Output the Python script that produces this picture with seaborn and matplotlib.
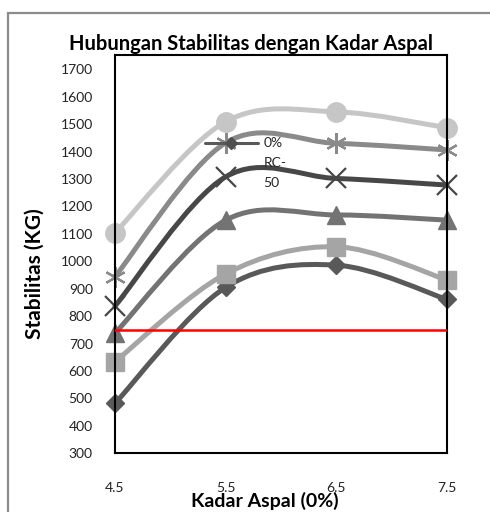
import numpy as np
import pandas as pd
import matplotlib
matplotlib.use("Agg")
import matplotlib.pyplot as plt
import seaborn as sns
from matplotlib.path import Path
from matplotlib.patches import PathPatch, Rectangle
from matplotlib.lines import Line2D
from matplotlib.legend_handler import HandlerLine2D

# ---------------- data ----------------
kadar_aspal = [4.5, 5.5, 6.5, 7.5]
stab_diamond = [482, 905, 986, 861]
stab_square = [634, 954, 1053, 932]
stab_triangle = [738, 1150, 1169, 1150]
stab_xmark = [837, 1308, 1302, 1278]
stab_asterisk = [944, 1432, 1430, 1406]
stab_circle = [1104, 1509, 1545, 1487]
batas_min = 750
y_ticks = [300, 400, 500, 600, 700, 800, 900, 1000, 1100, 1200, 1300, 1400, 1500, 1600, 1700]
x_tick_labels = ["4.5", "5.5", "6.5", "7.5"]
legend_label = "0%\nRC-\n50"
title = "Hubungan Stabilitas dengan Kadar Aspal"
xlabel = "Kadar Aspal (0%)"
ylabel = "Stabilitas (KG)"

series = [
    (stab_diamond, "D", "#595959", 9.5, 1.0),
    (stab_square, "s", "#a5a5a5", 13.5, 1.0),
    (stab_triangle, "^", "#737373", 13.5, 1.0),
    (stab_xmark, "x", "#474747", 14.0, 1.6),
    (stab_asterisk, (6, 2, 0), "#8a8a8a", 15.0, 1.6),
    (stab_circle, "o", "#c6c6c6", 14.0, 1.0),
]

sns.set_theme(style="white")
plt.rcParams["font.family"] = ["Lato", "DejaVu Sans"]

W, H = 490, 512
fig = plt.figure(figsize=(W / 100, H / 100), dpi=100)
fig.patch.set_facecolor("white")

# outer chart border
fig.patches.append(Rectangle((7.5 / W, -0.2), 1.5, 1 - 12.5 / H + 0.2,
                             transform=fig.transFigure, fill=False,
                             edgecolor="#8c8c8c", linewidth=1.6))

L, R, T, B = 115, 447, 54.5, 453.3
ax = fig.add_axes([L / W, 1 - B / H, (R - L) / W, (B - T) / H])


def smooth_path(xs, ys):
    pts = np.column_stack([xs, ys]).astype(float)
    n = len(pts)
    verts = [pts[0]]
    codes = [Path.MOVETO]
    for i in range(n - 1):
        p0 = pts[i - 1] if i > 0 else pts[i]
        p1 = pts[i]
        p2 = pts[i + 1]
        p3 = pts[i + 2] if i + 2 < n else pts[i + 1]
        c1 = p1 + (p2 - p0) / 6.0
        c2 = p2 - (p3 - p1) / 6.0
        verts += [c1, c2, p2]
        codes += [Path.CURVE4] * 3
    return Path(verts, codes)


for k, (vals, mk, col, ms, mew) in enumerate(series):
    z = 3 + k * 0.1
    patch = PathPatch(smooth_path(kadar_aspal, vals), fill=False, edgecolor=col,
                      linewidth=3.6, zorder=z, capstyle="round", joinstyle="round",
                      clip_on=False)
    ax.add_patch(patch)
    df = pd.DataFrame({"x": kadar_aspal, "y": vals})
    sns.lineplot(data=df, x="x", y="y", ax=ax, color=col, marker=mk, linestyle="",
                 markersize=ms, markeredgecolor=col, markerfacecolor=col,
                 markeredgewidth=mew, zorder=z + 0.05, clip_on=False)

ax.axhline(batas_min, color="#ff0000", linewidth=1.8, zorder=10)

ax.set_xlim(4.5, 7.5)
ax.set_ylim(300, 1754)
ax.set_xticks(kadar_aspal)
ax.set_xticklabels(x_tick_labels)
ax.set_yticks(y_ticks)
ax.tick_params(axis="both", length=0, labelsize=10, colors="#222222")
ax.tick_params(axis="x", pad=21)
ax.tick_params(axis="y", pad=16)
for s in ax.spines.values():
    s.set_visible(True)
    s.set_color("black")
    s.set_linewidth(1.5)
    s.set_zorder(9)
ax.grid(False)

ax.set_xlabel(xlabel, fontsize=14, fontweight="bold", color="black")
ax.xaxis.label.set_va("center")
ax.xaxis.set_label_coords((265 - L) / (R - L), (B - 501) / (B - T))
ax.set_ylabel(ylabel, fontsize=15, fontweight="bold", color="black")
ax.yaxis.label.set_va("center")
ax.yaxis.set_label_coords((35 - L) / (R - L), (B - 274) / (B - T))

fig.text(251 / W, 1 - 44 / H, title, ha="center", va="center",
         fontsize=14.5, fontweight="bold", color="black")


class FirstLineHandler(HandlerLine2D):
    def __init__(self, shift, **kw):
        super().__init__(**kw)
        self.shift = shift

    def create_artists(self, legend, orig_handle, xdescent, ydescent, width,
                       height, fontsize, trans):
        arts = super().create_artists(legend, orig_handle, xdescent, ydescent,
                                      width, height, fontsize, trans)
        for a in arts:
            a.set_ydata(np.asarray(a.get_ydata(), dtype=float) + self.shift)
        return arts


handle = Line2D([], [], color="#595959", linewidth=2.2, marker="D",
                markersize=6, markerfacecolor="#505050", markeredgecolor="#505050")
leg = ax.legend([handle], [legend_label], loc="upper left",
                bbox_to_anchor=(205 / W, 1 - 137 / H), bbox_transform=fig.transFigure,
                frameon=False, fontsize=10, handlelength=3.8, handletextpad=0.4,
                borderpad=0, borderaxespad=0,
                handler_map={Line2D: FirstLineHandler(shift=14.5)})
leg.get_texts()[0].set_linespacing(1.8)
leg.set_zorder(20)

fig.savefig("out.png", dpi=100)
